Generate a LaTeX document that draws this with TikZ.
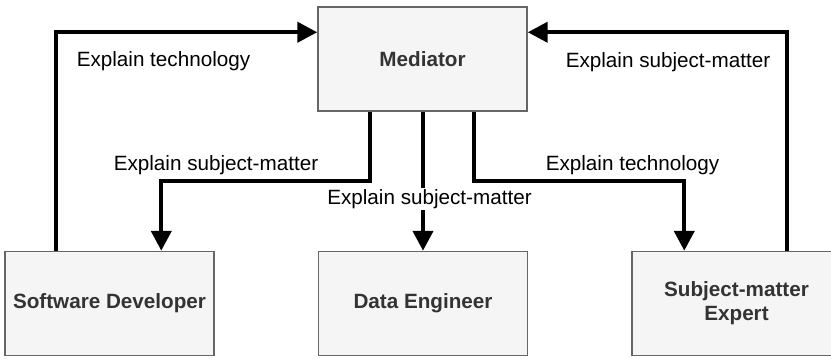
\documentclass[tikz,border=0pt]{standalone}
\usepackage{fontspec}
\setmainfont{Liberation Sans}
\usetikzlibrary{arrows.meta,calc}
\definecolor{boxfill}{HTML}{F5F5F5}
\definecolor{boxline}{HTML}{666666}
\definecolor{boxtext}{HTML}{333333}
\begin{document}
\begin{tikzpicture}[x=0.75pt,y=-0.75pt,
  role/.style={draw=boxline,fill=boxfill,line width=1.1pt,
    minimum width=156.75pt,minimum height=78pt,inner sep=0pt,
    align=center,text=boxtext,font=\fontsize{15.5}{18}\selectfont\bfseries},
  flow/.style={line width=3.2pt,draw=black,-{Triangle[length=15pt,width=15pt]}},
  caption/.style={inner sep=1pt,font=\fontsize{15.5}{18}\selectfont}]
\useasboundingbox (0,0) rectangle (831,359);

% the four roles
\node[role] (med) at (422.5,59)  {Mediator};
\node[role] (sd)  at (109.5,303.5) {Software Developer};
\node[role] (de)  at (423,303.5) {Data Engineer};
\node[role] (sme) at (736.5,303.5) {Subject-matter\\Expert};

% feedback to the mediator
\draw[flow] ($(sd.north west)+(52,0)$) |- ($(med.north west)+(0,26)$);
\draw[flow] ($(sme.north west)+(156,0)$) |- ($(med.north east)+(0,26)$);

% explanations from the mediator
\draw[flow] ($(med.south west)+(53,0)$) -- ++(0,69) -| ($(sd.north west)+(157,0)$);
\draw[flow] ($(med.south west)+(157,0)$) -- ++(0,69) -| ($(sme.north west)+(53,0)$);
\draw[flow] (med.south -| de.north) -- (de.north);

% captions
\node[caption] (c1) at (163.5,61) {Explain technology};
\node[caption] (c2) at (668,62) {Explain subject-matter};
\node[caption] (c3) at (216,165) {Explain subject-matter};
\node[caption] (c4) at (632.5,165) {Explain technology};
\node[caption,fill=white] (c5) at (429.5,199) {Explain subject-matter};
\end{tikzpicture}
\end{document}
